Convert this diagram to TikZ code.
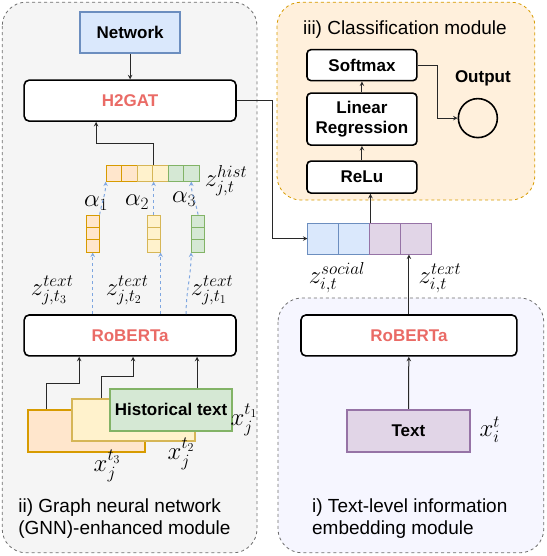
\documentclass[tikz,border=0pt]{standalone}
\usepackage{amssymb, amsmath}
\usepackage{fontspec}
\setmainfont{Liberation Sans}
\usepackage{tikz}
\usetikzlibrary{calc}
\definecolor{panelfill}{RGB}{245, 245, 245}
\definecolor{panelline}{RGB}{110, 110, 110}
\definecolor{clsfill}{RGB}{255, 240, 220}
\definecolor{txtfill}{RGB}{246, 246, 255}
\definecolor{robred}{RGB}{234, 107, 102}
\definecolor{bllight}{RGB}{218, 232, 252}
\definecolor{bldark}{RGB}{108, 142, 191}
\definecolor{orlight}{RGB}{255, 230, 204}
\definecolor{ordark}{RGB}{215, 155, 0}
\definecolor{yelight}{RGB}{255, 242, 204}
\definecolor{yedark}{RGB}{214, 182, 86}
\definecolor{grlight}{RGB}{213, 232, 212}
\definecolor{grdark}{RGB}{130, 179, 102}
\definecolor{pulight}{RGB}{225, 213, 231}
\definecolor{pudark}{RGB}{150, 115, 166}
\definecolor{dashblue}{RGB}{126, 166, 224}
\definecolor{arrgrey}{RGB}{40, 40, 40}
\newcommand*{\bh}{41}
\newcommand*{\boldlab}{\fontsize{17}{20}\selectfont\bfseries}
\newcommand*{\caplab}{\fontsize{19}{22}\selectfont}
\newcommand*{\mathlab}{\fontsize{23}{25}\selectfont}

\begin{document}
\begin{tikzpicture}[
   x=1pt, y=-1pt,
   panel/.style={draw=panelline, dashed, line width=0.8, rounded corners=24},
   block/.style={rectangle, rounded corners=5, draw=black, fill=white, line width=1.6,
                 text=robred, font=\boldlab, minimum height=\bh, minimum width=212},
   clsbox/.style={rectangle, rounded corners=4, draw=black, fill=white, line width=1.6,
                  font=\boldlab, align=center, inner sep=1, minimum width=110},
   inbox/.style={rectangle, line width=2, font=\boldlab, inner sep=1, minimum height=42},
   cellor/.style={rectangle, draw=ordark, fill=orlight, line width=1, inner sep=0},
   cellye/.style={rectangle, draw=yedark, fill=yelight, line width=1, inner sep=0},
   cellgr/.style={rectangle, draw=grdark, fill=grlight, line width=1, inner sep=0},
   cellbl/.style={rectangle, draw=bldark, fill=bllight, line width=1, inner sep=0},
   cellpu/.style={rectangle, draw=pudark, fill=pulight, line width=1, inner sep=0},
   mlab/.style={font=\mathlab, inner sep=0},
   caption/.style={font=\caplab, align=left, anchor=north west, inner sep=0},
   arr/.style={->, >=stealth, color=arrgrey, line width=1},
   dasharr/.style={->, >=stealth, color=dashblue, line width=1, dashed}
  ]

  \draw[white] (0, 0) rectangle (546, 556);

  % Panels
  \draw[panel, fill=panelfill] (2, 2) rectangle (257, 553);
  \draw[panel, fill=clsfill, draw=ordark] (277, 2) rectangle (535, 200);
  \draw[panel, fill=txtfill] (278, 298) rectangle (544, 553);

  \node (cap2) at (18, 499) [caption] {ii) Graph neural network\\(GNN)-enhanced module};
  \node (cap3) at (405, 29) [font=\caplab] {iii) Classification module};
  \node (cap1) at (312, 499) [caption] {i) Text-level information\\embedding module};

  \begin{scope}[shift={(0, 0)}]

    \node (network) at (130, 32.5) [rectangle, draw=bldark, fill=bllight, line width=1.6,
          font=\boldlab, minimum width=100, minimum height=\bh] {Network};

    \node (h2gat) at (130, 100.5) [block] {H2GAT};

    \node (roberta1) at (130, 335.5) [block] {RoBERTa};

    \foreach \i/\st in {1/cellor, 2/cellor, 3/cellye, 4/cellye, 5/cellgr, 6/cellgr} {
      \node (hist\i) at ({98.25 + 15.5 * \i}, 173) [\st, minimum width=15.5, minimum height=16] {};
    }

    \foreach \v/\xc/\st in {vor/92.5/cellor, vye/153.5/cellye, vgr/198/cellgr} {
      \foreach \j in {1, 2, 3} {
        \node (\v\j) at (\xc, {208.84 + 12.33 * \j}) [\st, minimum width=13, minimum height=12.33] {};
      }
    }

    \node (orbox) at (86.5, 431) [inbox, draw=ordark, fill=orlight, minimum width=117] {};
    \node (yebox) at (133.5, 420.5) [inbox, draw=yedark, fill=yelight, minimum width=123] {};
    \node (grbox) at (171, 410) [inbox, draw=grdark, fill=grlight, minimum width=122] {Historical text};

    \node (zhist) at (226, 181) [mlab] {$z_{j,t}^{hist}$};
    \node (alphaA) at (96, 203) [mlab] {$\alpha_1$};
    \node (alphaB) at (137, 202) [mlab] {$\alpha_2$};
    \node (alphaC) at (184, 199) [mlab] {$\alpha_3$};
    \node (ztextC) at (52, 290) [mlab] {$z_{j,t_3}^{text}$};
    \node (ztextB) at (127, 290) [mlab] {$z_{j,t_2}^{text}$};
    \node (ztextA) at (212, 290) [mlab] {$z_{j,t_1}^{text}$};
    \node (xjA) at (244, 420) [mlab] {$x_j^{t_1}$};
    \node (xjB) at (181, 454) [mlab] {$x_j^{t_2}$};
    \node (xjC) at (107, 466) [mlab] {$x_j^{t_3}$};

    \coordinate (histbend) at (96, 143);
    \coordinate (orbend) at (79, 384);
    \coordinate (yebend) at (133, 377);

    \draw[arr] (network) -- (h2gat);
    \draw[arr] (hist3.north east) |- (histbend) -- (histbend |- h2gat.south);
    \draw[arr] ($(orbox.north west) + (19, 0)$) |- (orbend) -- (orbend |- roberta1.south);
    \draw[arr] ($(yebox.north west) + (30, 0)$) |- (yebend) -- (yebend |- roberta1.south);
    \draw[arr] ($(grbox.north) + (26, 0)$) coordinate (grout) -- (grout |- roberta1.south);

    \draw[dasharr] (roberta1.north -| vor3.south) -- (vor3.south);
    \draw[dasharr] (roberta1.north -| vye3.south east) -- (vye3.south east);
    \draw[dasharr] ($(roberta1.north) + (56, 0)$) to[out=90, in=-90] (vgr3.south west);
    \draw[dasharr] (vor1.north east) to[out=80, in=-90] (hist1.south west);
    \draw[dasharr] (vye1.north) -- (vye1.north |- hist4.south);
    \draw[dasharr] (vgr1.north) to[out=100, in=-90] (hist6.south);

  \end{scope}

  \begin{scope}[shift={(0, 0)}]

    \node (softmax) at (362, 65) [clsbox, minimum height=31] {Softmax};
    \node (linreg) at (362, 119) [clsbox, minimum height=52] {Linear\\Regression};
    \node (relu) at (362, 177) [clsbox, minimum height=32] {ReLu};
    \node (output) at (478, 118) [circle, draw=black, line width=1.6, minimum size=39] {};
    \node (outlab) at (483, 78) [font=\boldlab] {Output};

    \foreach \i/\st in {1/cellbl, 2/cellbl, 3/cellpu, 4/cellpu} {
      \node (soc\i) at ({292.5 + 31 * \i}, 238.5) [\st, minimum size=31] {};
    }

    \node (zsocial) at (337, 278) [mlab] {$z_{i,t}^{social}$};
    \node (ztexti) at (440, 278) [mlab] {$z_{i,t}^{text}$};

    \node (roberta2) at (409, 335.5) [block, minimum width=216] {RoBERTa};
    \node (textbox) at (408.5, 431) [inbox, draw=pudark, fill=pulight, minimum width=123] {Text};
    \node (xi) at (490, 430) [mlab] {$x_i^t$};

    \coordinate (socbend) at (272, 238.5);
    \coordinate (outbend) at (438, 118);

    \draw[arr] (h2gat.east) -| (socbend) -- (soc1.west);
    \draw[arr] (soc2.north east) -- (soc2.north east |- relu.south);
    \draw[arr] (relu) -- (linreg);
    \draw[arr] (linreg) -- (softmax);
    \draw[arr] (softmax.east) -| (outbend) -- (output);
    \draw[arr] (textbox) -- (roberta2);
    \draw[arr] (roberta2.north) -- (roberta2.north |- soc4.south);

  \end{scope}

\end{tikzpicture}
\end{document}
